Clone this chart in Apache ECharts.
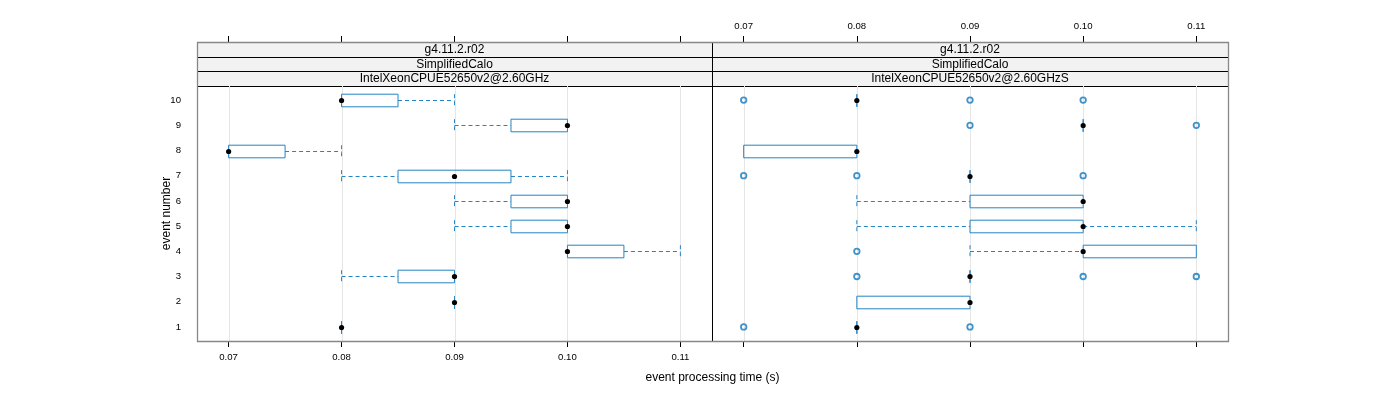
<!DOCTYPE html>
<html>
<head>
<meta charset="utf-8">
<script src="https://cdn.jsdelivr.net/npm/echarts@6/dist/echarts.min.js"></script>
<style>html,body{margin:0;padding:0;background:#fff}#c{width:1400px;height:400px}</style>
</head>
<body>
<div id="c"></div>
<script>
// ---- data ----
const events = [1, 2, 3, 4, 5, 6, 7, 8, 9, 10];
const xTicks = [0.07, 0.08, 0.09, 0.10, 0.11];
const yTicks = [1, 2, 3, 4, 5, 6, 7, 8, 9, 10];
const stripRows = ['g4.11.2.r02', 'SimplifiedCalo'];
const panelNames = ['IntelXeonCPUE52650v2@2.60GHz', 'IntelXeonCPUE52650v2@2.60GHzS'];

// left panel stats per event (min, q1, median, q3, max)
const leftMin = [0.08, 0.09, 0.08,  0.10, 0.09,  0.09,  0.08,  0.07, 0.09,  0.08];
const leftQ1  = [0.08, 0.09, 0.085, 0.10, 0.095, 0.095, 0.085, 0.07, 0.095, 0.08];
const leftMed = [0.08, 0.09, 0.09,  0.10, 0.10,  0.10,  0.09,  0.07, 0.10,  0.08];
const leftQ3  = [0.08, 0.09, 0.09,  0.105,0.10,  0.10,  0.095, 0.075,0.10,  0.085];
const leftMax = [0.08, 0.09, 0.09,  0.11, 0.10,  0.10,  0.10,  0.08, 0.10,  0.09];
const leftOut = [[], [], [], [], [], [], [], [], [], []];

// right panel stats per event
const rightMin = [0.08, 0.08, 0.09, 0.09, 0.08, 0.08, 0.09, 0.07, 0.10, 0.08];
const rightQ1  = [0.08, 0.08, 0.09, 0.10, 0.09, 0.09, 0.09, 0.07, 0.10, 0.08];
const rightMed = [0.08, 0.09, 0.09, 0.10, 0.10, 0.10, 0.09, 0.08, 0.10, 0.08];
const rightQ3  = [0.08, 0.09, 0.09, 0.11, 0.10, 0.10, 0.09, 0.08, 0.10, 0.08];
const rightMax = [0.08, 0.09, 0.09, 0.11, 0.11, 0.10, 0.09, 0.08, 0.10, 0.08];
const rightOut = [[0.07, 0.09], [], [0.08, 0.10, 0.11], [0.08], [], [], [0.07, 0.08, 0.10], [], [0.09, 0.11], [0.07, 0.09, 0.10]];

// ---- style ----
const BLUE = '#2585c4';
const OUTBLUE = '#1279bd';
const FONT = 'Liberation Sans, Arial, sans-serif';
const XMIN = 0.0672, XMAX = 0.1128, YMIN = 0.44, YMAX = 10.56;
const L = 197, M = 712, R = 1228, T = 42, PT = 86, B = 341;

function boxData(mn, q1, md, q3, mx) {
  return events.map((e, i) => [e, mn[i], q1[i], md[i], q3[i], mx[i]]);
}
function outData(out) {
  const d = [];
  events.forEach((e, i) => out[i].forEach(v => d.push([v, e])));
  return d;
}

function renderGrid(params, api) {
  const t = api.value(0);
  const p0 = api.coord([t, YMIN]), p1 = api.coord([t, YMAX]);
  const x = Math.round(p0[0]) + 0.5;
  return { type: 'line', shape: { x1: x, y1: p0[1], x2: x, y2: p1[1] }, style: { stroke: '#e6e6e6', lineWidth: 1 } };
}

function renderBox(params, api) {
  const ev = api.value(0), mn = api.value(1), q1 = api.value(2), md = api.value(3), q3 = api.value(4), mx = api.value(5);
  const pMin = api.coord([mn, ev]), pQ1 = api.coord([q1, ev]), pMd = api.coord([md, ev]);
  const pQ3 = api.coord([q3, ev]), pMax = api.coord([mx, ev]);
  const h = api.size([0, 0.5])[1];
  const y = Math.round(pMd[1]) + 0.5;
  const dashStyle = { stroke: BLUE, lineWidth: 1, lineDash: [4, 3], fill: null };
  const ch = [];
  if (mn < q1) {
    ch.push({ type: 'line', shape: { x1: pMin[0], y1: y, x2: pQ1[0], y2: y }, style: dashStyle });
    ch.push({ type: 'line', shape: { x1: pMin[0], y1: y - h / 2, x2: pMin[0], y2: y + h / 2 }, style: dashStyle });
  }
  if (mx > q3) {
    ch.push({ type: 'line', shape: { x1: pQ3[0], y1: y, x2: pMax[0], y2: y }, style: dashStyle });
    ch.push({ type: 'line', shape: { x1: pMax[0], y1: y - h / 2, x2: pMax[0], y2: y + h / 2 }, style: dashStyle });
  }
  ch.push({ type: 'rect', shape: { x: pQ1[0], y: y - h / 2, width: pQ3[0] - pQ1[0], height: h },
            style: { stroke: BLUE, lineWidth: 1, fill: null } });
  ch.push({ type: 'circle', shape: { cx: pMd[0], cy: y, r: 2.6 }, style: { fill: '#000', stroke: null } });
  return { type: 'group', children: ch };
}

const fmt = v => v.toFixed(2);
function xAxisDef(gridIndex, pos, showLabel) {
  return {
    type: 'value', gridIndex: gridIndex, position: pos, min: XMIN, max: XMAX,
    offset: pos === 'top' ? (PT - T) : 0,
    axisLine: { show: false },
    axisTick: { show: true, inside: false, length: 6, lineStyle: { color: '#000', width: 1 }, customValues: xTicks },
    axisLabel: { show: showLabel, customValues: xTicks, formatter: fmt, margin: 11, fontSize: 9.6, color: '#000', fontFamily: FONT },
    splitLine: { show: false }
  };
}

const graphics = [];
// strips
[[L, M, 0], [M, R, 1]].forEach(([x0, x1, p]) => {
  const rows = stripRows.concat([panelNames[p]]);
  const ys = [42, 57, 71, 86];
  rows.forEach((txt, r) => {
    graphics.push({ type: 'rect', shape: { x: x0 + 0.5, y: ys[r] + 0.5, width: x1 - x0, height: ys[r + 1] - ys[r] },
      style: { fill: '#f2f2f2', stroke: '#000', lineWidth: 1 }, z: 1 });
    graphics.push({ type: 'text', x: (x0 + x1) / 2, y: (ys[r] + ys[r + 1]) / 2 + 0.5,
      style: { text: txt, font: '12px ' + FONT, fill: '#000', align: 'center', verticalAlign: 'middle' }, z: 2 });
  });
});
// divider and frame
graphics.push({ type: 'line', shape: { x1: M + 0.5, y1: T, x2: M + 0.5, y2: B }, style: { stroke: '#000', lineWidth: 1 }, z: 3 });
graphics.push({ type: 'rect', shape: { x: L + 0.5, y: T + 0.5, width: R - L, height: B - T },
  style: { fill: null, stroke: '#888', lineWidth: 1.3 }, z: 4 });
// axis titles
graphics.push({ type: 'text', x: (L + R) / 2, y: 378,
  style: { text: 'event processing time (s)', font: '12px ' + FONT, fill: '#000', align: 'center', verticalAlign: 'middle' } });
graphics.push({ type: 'text', x: 167, y: (PT + B) / 2, rotation: Math.PI / 2,
  style: { text: 'event number', font: '12px ' + FONT, fill: '#000', align: 'center', verticalAlign: 'middle' } });

const chart = echarts.init(document.getElementById('c'), null, { renderer: 'canvas' });
chart.setOption({
  animation: false,
  backgroundColor: '#fff',
  grid: [
    { left: L, top: PT, width: M - L, height: B - PT },
    { left: M, top: PT, width: R - M, height: B - PT }
  ],
  xAxis: [
    xAxisDef(0, 'bottom', true),
    xAxisDef(0, 'top', false),
    xAxisDef(1, 'bottom', false),
    xAxisDef(1, 'top', true)
  ],
  yAxis: [
    { type: 'value', gridIndex: 0, min: YMIN, max: YMAX,
      axisLine: { show: false }, axisTick: { show: false, customValues: yTicks }, splitLine: { show: false },
      axisLabel: { show: true, customValues: yTicks, margin: 16, fontSize: 9.6, color: '#000', fontFamily: FONT } },
    { type: 'value', gridIndex: 1, min: YMIN, max: YMAX,
      axisLine: { show: false }, axisTick: { show: false }, splitLine: { show: false }, axisLabel: { show: false } }
  ],
  graphic: graphics,
  series: [
    { type: 'custom', xAxisIndex: 0, yAxisIndex: 0, renderItem: renderGrid, clip: false,
      data: xTicks.map(t => [t]), z: 1, silent: true },
    { type: 'custom', xAxisIndex: 2, yAxisIndex: 1, renderItem: renderGrid, clip: false,
      data: xTicks.map(t => [t]), z: 1, silent: true },
    { type: 'custom', xAxisIndex: 0, yAxisIndex: 0, renderItem: renderBox, clip: false,
      data: boxData(leftMin, leftQ1, leftMed, leftQ3, leftMax), z: 5 },
    { type: 'scatter', xAxisIndex: 0, yAxisIndex: 0, data: outData(leftOut), symbol: 'circle', symbolSize: 5.5,
      itemStyle: { color: 'rgba(0,0,0,0)', borderColor: OUTBLUE, borderWidth: 1.8 }, z: 5 },
    { type: 'custom', xAxisIndex: 2, yAxisIndex: 1, renderItem: renderBox, clip: false,
      data: boxData(rightMin, rightQ1, rightMed, rightQ3, rightMax), z: 5 },
    { type: 'scatter', xAxisIndex: 2, yAxisIndex: 1, data: outData(rightOut), symbol: 'circle', symbolSize: 5.5,
      itemStyle: { color: 'rgba(0,0,0,0)', borderColor: OUTBLUE, borderWidth: 1.8 }, z: 5 }
  ]
});
</script>
</body>
</html>
